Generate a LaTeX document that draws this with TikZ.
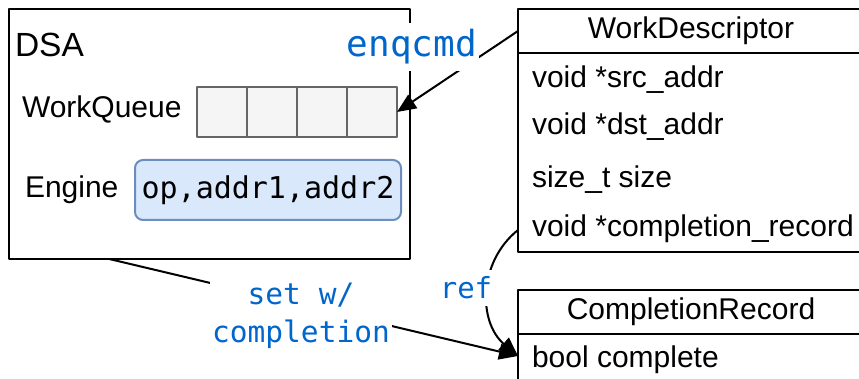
\documentclass[tikz,border=0pt]{standalone}
\usepackage{fontspec}
\setmainfont{Liberation Sans}
\newfontfamily\codefont{DejaVu Sans Mono}
\usetikzlibrary{arrows.meta,calc}
\definecolor{codeblue}{HTML}{0066CC}
\definecolor{queuefill}{HTML}{F5F5F5}
\definecolor{queuedraw}{HTML}{666666}
\definecolor{enginefill}{HTML}{DAE8FC}
\definecolor{enginedraw}{HTML}{6C8EBF}

\begin{document}
\begin{tikzpicture}[x=1pt,y=-1pt,>={Triangle[length=19pt,width=16pt]}, line width=2pt, line join=round,
	box/.style={draw, inner sep=0pt, outer sep=0pt, anchor=north west, font=\fontsize{30}{36}\selectfont},
	cell/.style={box, draw=queuedraw, fill=queuefill, minimum width=50pt, minimum height=50pt},
	field/.style={anchor=base west, inner sep=0pt, font=\fontsize{30}{36}\selectfont},
	cmdlabel/.style={text=codeblue, fill=white, inner xsep=2pt, inner ysep=6.5pt, font=\codefont\fontsize{#1}{38}\selectfont}]
	\useasboundingbox (0,0) rectangle (859,379);
	\clip (0,0) rectangle (859,379);
	% DSA device with its queue and engine
	\node[box, minimum width=401pt, minimum height=250pt] (dsa) at (9,9) {};
	\node[field, font=\fontsize{33.5}{40}\selectfont] (dsaname) at (14,57) {DSA};
	\node[field] (wqname) at (21,118) {WorkQueue};
	\foreach \i in {0,...,3}
		\node[cell] (q\i) at (197+50*\i,87) {};
	\node[field] (engname) at (24,198) {Engine};
	\node[draw=enginedraw, fill=enginefill, rounded corners=8pt, minimum width=266pt, minimum height=60pt, inner sep=0pt, font=\codefont\fontsize{30}{36}\selectfont] (eng) at (268,190) {op,addr1,addr2};
	% descriptor struct
	\node[box, minimum width=346pt, minimum height=44pt] (wd) at (518,9) {WorkDescriptor};
	\node[box, minimum width=346pt, minimum height=199pt] (wdbody) at (wd.south west) {};
	\foreach \y/\t [count=\n] in {88/void *src\_addr, 135/void *dst\_addr, 188/size\_t size, 237/void *completion\_record}
		\node[field] (wd\n) at (531,\y) {\t};
	% completion record struct
	\node[box, minimum width=346pt, minimum height=44pt] (cr) at (518,290) {CompletionRecord};
	\node[box, minimum width=346pt, minimum height=60pt] (crbody) at (cr.south west) {};
	\node[field] (cr1) at (531,367) {bool complete};
	% connectors
	\coordinate (dsaout) at ($(dsa.south west)!0.25!(dsa.south east)$);
	\coordinate (wdout) at ($(wdbody.north west)+(0,177)$);
	\coordinate (crin) at ($(crbody.north west)+(0,22)$);
	\draw[->] (wd.west) -- (q3.east);
	\draw[->] (dsaout) -- (crin);
	\draw[->] (wdout) .. controls (478,262) and (478,322) .. (crin);
	\node[cmdlabel=36] (enq) at (412,47) {enqcmd};
	\node[cmdlabel=29.5, align=center] (setlbl) at (301,316) {set w/\\completion};
	\node[cmdlabel=29] (reflbl) at (466,288) {ref};
\end{tikzpicture}
\end{document}
